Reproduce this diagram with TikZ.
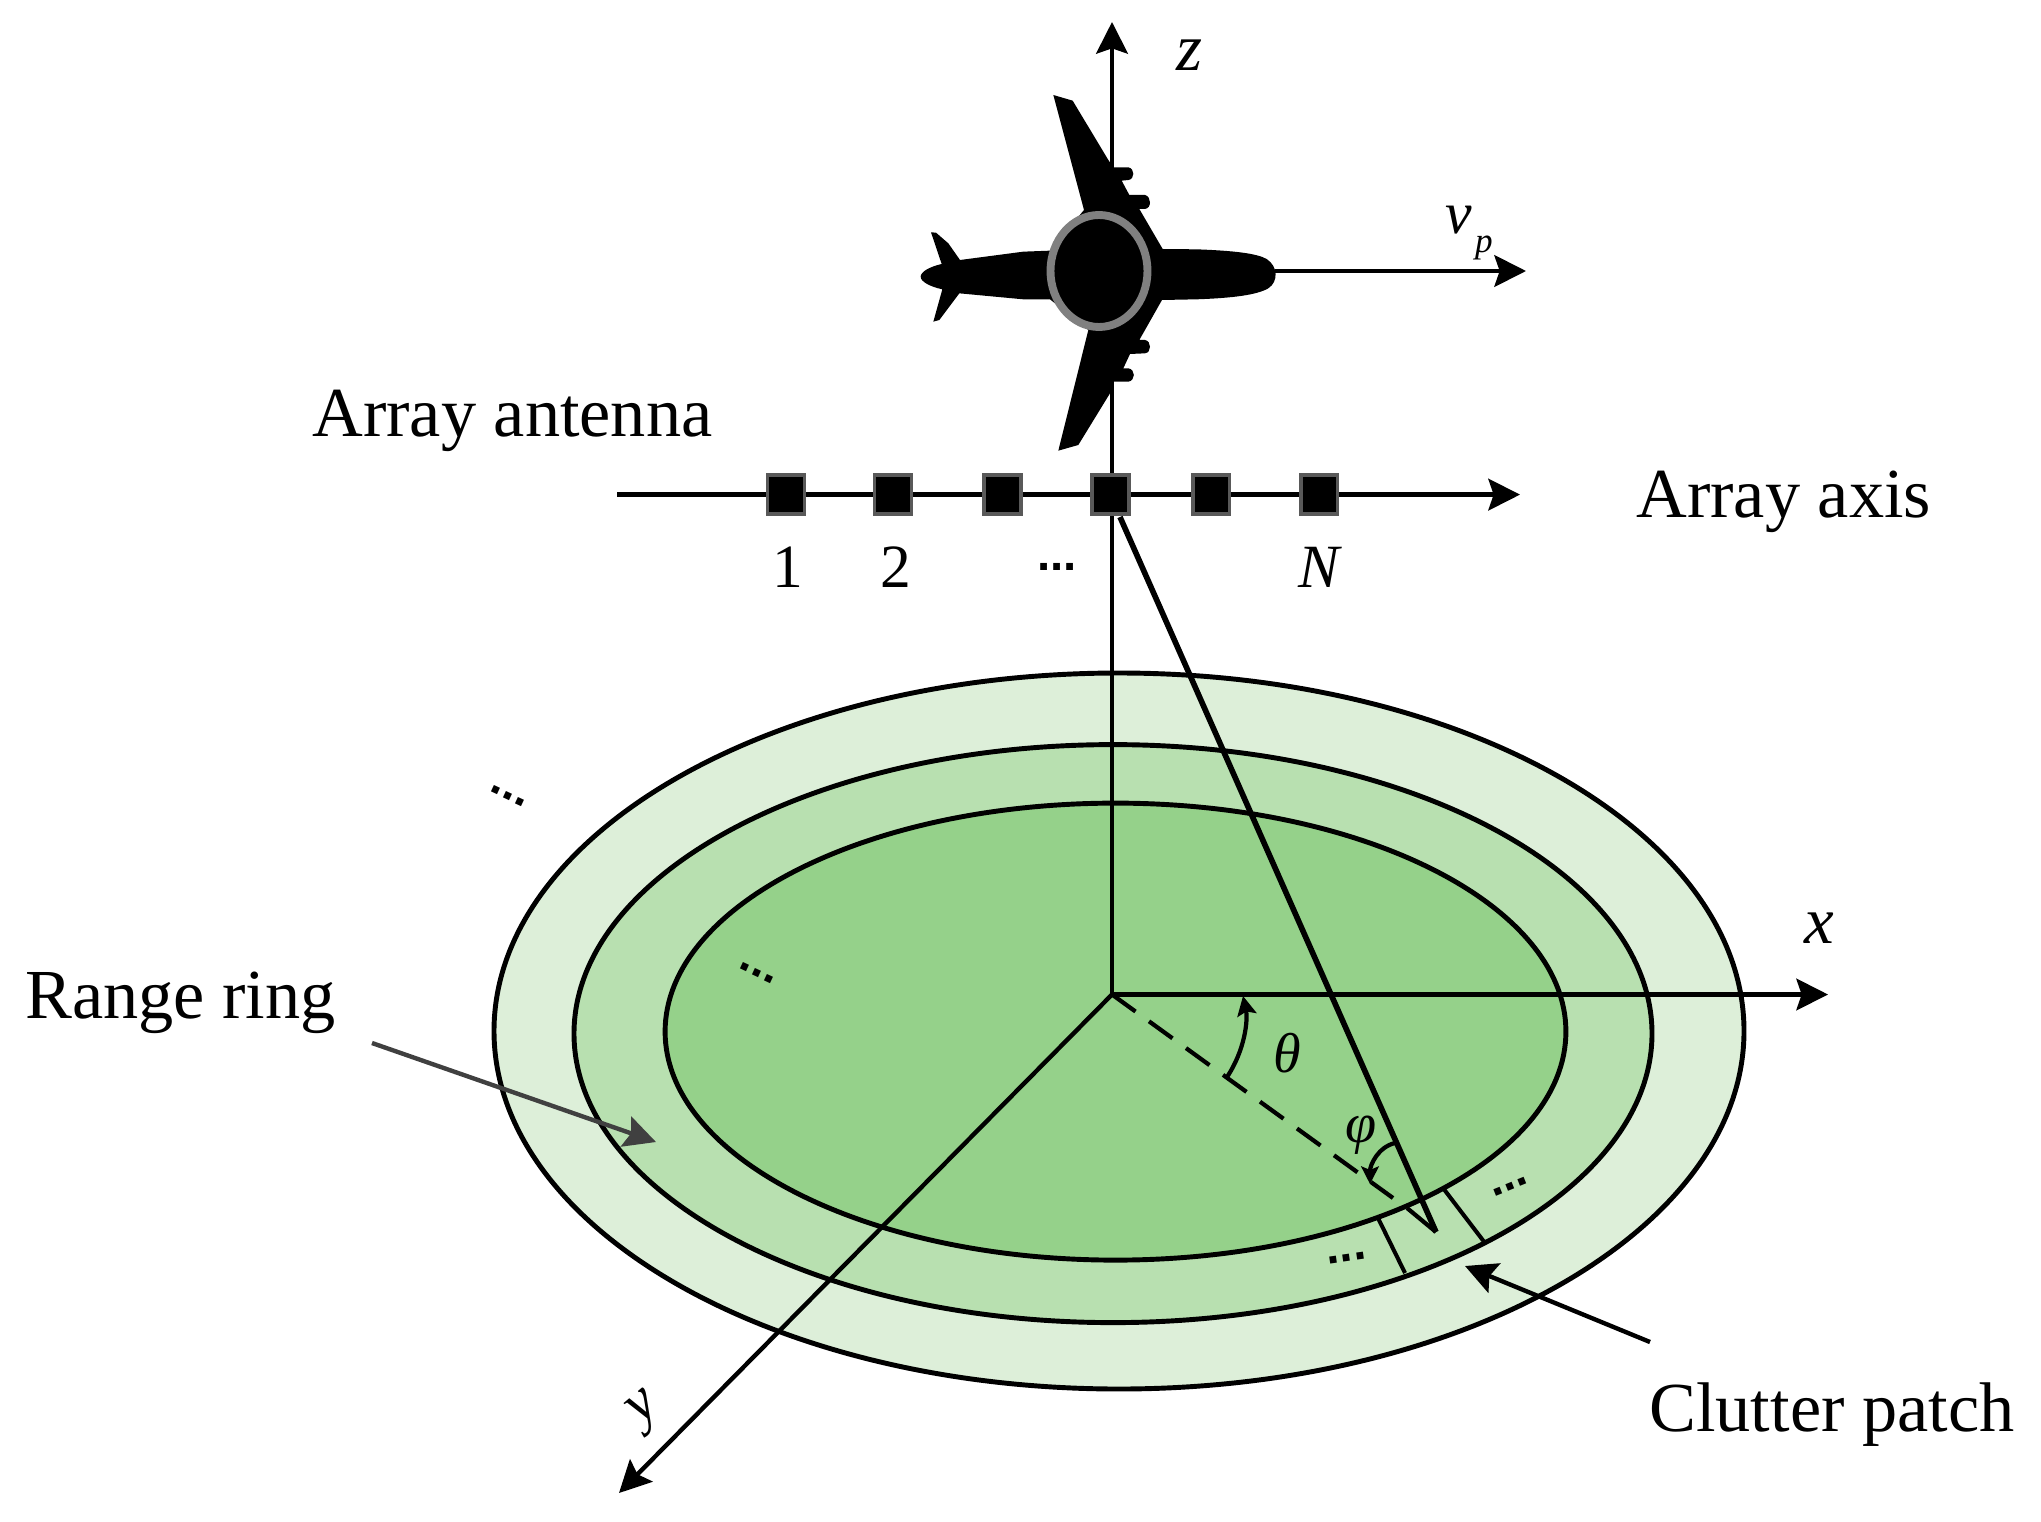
\documentclass[tikz,border=0pt]{standalone}
\usepackage{fontspec}
\setmainfont{Liberation Serif}
\newfontfamily\dotfont{Liberation Sans}
\usetikzlibrary{arrows.meta}
\definecolor{ringA}{HTML}{DDEFD9}
\definecolor{ringB}{HTML}{B8E0B0}
\definecolor{ringC}{HTML}{95D18A}
\definecolor{edgeG}{HTML}{595959}
\definecolor{ringG}{HTML}{808080}
\definecolor{pointerG}{HTML}{404040}
\tikzset{
  ax/.style={draw=black,line width=2.5pt,-{Stealth[length=18pt,width=18pt,inset=3pt]}},
  ptr/.style={line width=2.5pt,-{Stealth[length=18pt,width=18pt,inset=3pt]}},
  ring/.style={draw=black,line width=2.8pt},
  elem/.style={draw=edgeG,fill=black,line width=2.2pt,minimum width=21pt,minimum height=22.5pt,inner sep=0pt},
  lbl/.style={inner sep=0pt,font=\fontsize{40}{48}\selectfont},
  num/.style={inner sep=0pt,font=\fontsize{35}{42}\selectfont,anchor=base},
  sym/.style={inner sep=0pt,font=\fontsize{38}{46}\itshape\selectfont},
  dots/.style={inner sep=0pt,font=\dotfont\fontsize{27}{32}\bfseries\selectfont}
}
\begin{document}
\begin{tikzpicture}[x=0.02cm,y=-0.02cm]
\useasboundingbox (0,0) rectangle (2041,1521);
% range rings
\path[ring,fill=ringA] (1119,1031) ellipse [x radius=625,y radius=358];
\path[ring,fill=ringB] (1113,1033.6) ellipse [x radius=539,y radius=289];
\path[ring,fill=ringC] (1115.5,1031.6) ellipse [x radius=450.4,y radius=228.5];
% coordinates
\coordinate (o) at (1112,994.5);
\coordinate (ztop) at (1112,22);
\coordinate (xend) at (1828,994.5);
\coordinate (yend) at (619,1493);
\coordinate (arrS) at (617,494.6);
\coordinate (arrE) at (1520,494.6);
\coordinate (tip) at (1436,1232);
\coordinate (dashE) at (1393,1198);
\coordinate (dashF) at (1407,1208);
\coordinate (nose) at (1275,271);
\coordinate (vend) at (1526,271);
% axes
\draw[ax] (o) -- (ztop);
\draw[ax] (o) -- (xend);
\draw[ax] (o) -- (yend);
% array axis and elements
\draw[ax] (arrS) -- (arrE);
\node[elem] (e1) at (786,494.6) {};
\node[elem] (e2) at (893,494.6) {};
\node[elem] (e3) at (1002.5,494.6) {};
\node[elem] (e4) at (1110.5,494.6) {};
\node[elem] (e5) at (1211,494.6) {};
\node[elem] (e6) at (1319,494.6) {};
% slant range and ground projection
\draw[line width=3.2pt] (1120,517) -- (tip);
\draw[line width=2.4pt,dash pattern=on 16.5pt off 9.5pt] (o) -- (dashE);
\draw[line width=2.4pt] (dashF) -- (tip);
% patch edges
\draw[line width=2.3pt] (1378,1218) -- (1405,1273);
\draw[line width=2.3pt] (1443,1188) -- (1485,1243);
% angle arcs
\draw[line width=2.4pt,-{Stealth[length=11pt,width=11pt,inset=2pt]}] (1227,1077) .. controls (1245,1050) and (1248,1020) .. (1243,996);
\draw[line width=2.4pt,-{Stealth[length=10pt,width=10pt,inset=2pt]}] (1395,1143) .. controls (1378,1147) and (1370,1165) .. (1370,1184);
% velocity
\draw[ax] (nose) -- (vend);
% aircraft
\begin{scope}[shift={(880,60)},x=0.02cm/3,y=-0.02cm/3]
\fill[black] (520,105) -- (578,122) -- (685,300) -- (700,322) -- (745,322)
  .. controls (765,325) and (765,358) .. (745,360) -- (725,362) -- (748,405) -- (795,405)
  .. controls (815,410) and (815,445) .. (795,447) -- (778,447) -- (848,567)
  -- (950,568) .. controls (1060,572) and (1130,580) .. (1160,597)
  .. controls (1195,620) and (1195,665) .. (1165,685)
  .. controls (1130,705) and (1060,714) .. (950,718) -- (846,720) -- (778,840) -- (795,840)
  .. controls (815,843) and (815,878) .. (795,880) -- (750,882) -- (730,925) -- (745,925)
  .. controls (767,928) and (767,962) .. (745,965) -- (700,965) -- (690,1000) -- (595,1155)
  -- (535,1172) -- (625,810) -- (510,718) -- (430,718) -- (238,700) -- (178,780) -- (160,785)
  -- (187,688) .. controls (150,680) and (122,665) .. (122,650)
  .. controls (122,635) and (150,620) .. (185,612) -- (153,517) -- (168,518) -- (205,550)
  -- (240,600) -- (430,575) -- (510,572) -- (612,450) -- cycle;
\draw[draw=ringG,fill=black,line width=4.5pt] (657,633) ellipse [x radius=145.5,y radius=168];
\end{scope}
% pointers
\coordinate (rrS) at (372,1043);
\coordinate (rrE) at (656,1142);
\draw[ptr,pointerG] (rrS) -- (rrE);
\coordinate (cpS) at (1650,1342);
\coordinate (cpE) at (1465,1266);
\draw[ptr] (cpS) -- (cpE);
% labels
\node[lbl,anchor=base west] (tA) at (312,436) {Array antenna};
\node[lbl,anchor=base west] (tB) at (1636,517) {Array axis};
\node[lbl,anchor=base west] (tC) at (25,1018) {Range ring};
\node[lbl,anchor=base west] (tD) at (1649,1431) {Clutter patch};
\node[num] (n1) at (788,587) {1};
\node[num] (n2) at (896,587) {2};
\node[num,font=\fontsize{35}{42}\itshape\selectfont] (nN) at (1319,587) {N};
\node[sym] (lz) at (1189,55) {z};
\node[sym] (lx) at (1819,928) {x};
\node[sym,rotate=40,font=\fontsize{34}{40}\itshape\selectfont] (ly) at (646,1411) {y};
\node[sym,font=\fontsize{34}{40}\itshape\selectfont] (lv) at (1459,220) {v};
\node[sym,font=\fontsize{20}{24}\itshape\selectfont] (lp) at (1484,248) {p};
\node[sym,font=\fontsize{32}{38}\itshape\selectfont] (lt) at (1287,1053) {θ};
\node[sym,font=\fontsize{32}{38}\itshape\selectfont] (lf) at (1361,1135) {φ};
% ellipsis marks
\node[dots] (d1) at (1057,567) {...};
\node[dots,rotate=-25] (d2) at (508,796) {...};
\node[dots,rotate=-25] (d3) at (757,973) {...};
\node[dots,rotate=22] (d4) at (1510,1187) {...};
\node[dots,rotate=8] (d5) at (1347,1258) {...};
\end{tikzpicture}
\end{document}
